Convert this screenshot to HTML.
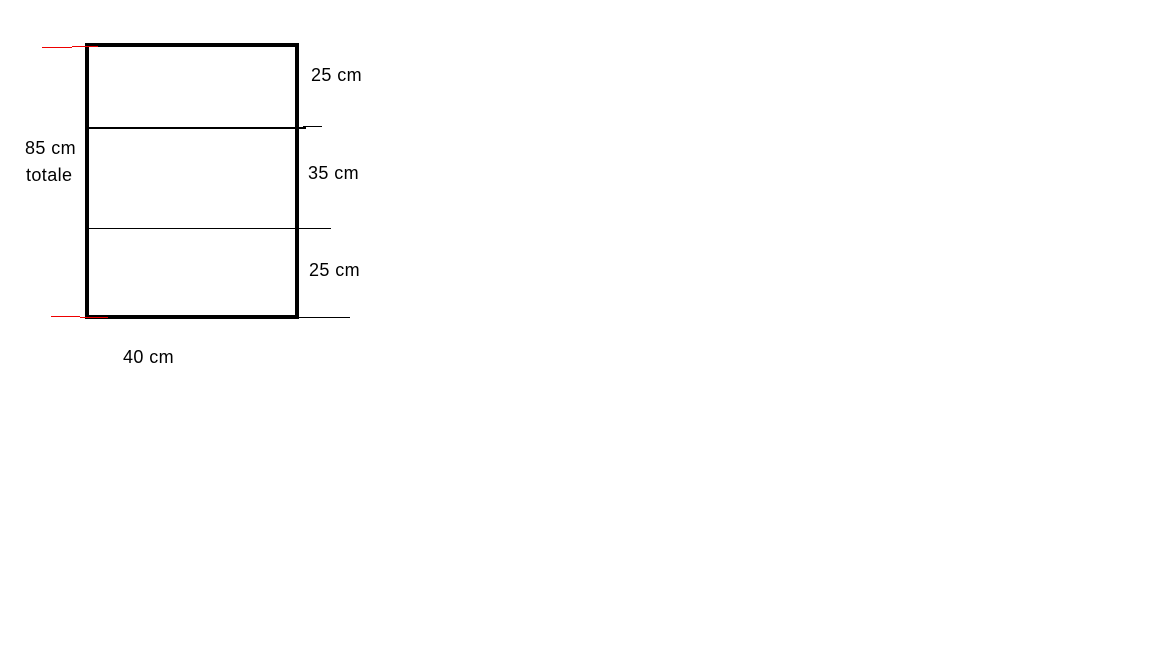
<!DOCTYPE html>
<html><head><style>
body{margin:0;width:1152px;height:648px;background:#fff;overflow:hidden;font-family:"Liberation Sans",sans-serif}
</style></head><body>
<svg width="1152" height="648" style="position:absolute;left:0;top:0" shape-rendering="crispEdges">
<rect x="87" y="45" width="210" height="272" fill="none" stroke="#000" stroke-width="4"/>
<line x1="89" y1="128" x2="306" y2="128" stroke="#000" stroke-width="2"/>
<line x1="303" y1="126.5" x2="322" y2="126.5" stroke="#000" stroke-width="1"/>
<line x1="89" y1="228.5" x2="331" y2="228.5" stroke="#000" stroke-width="1"/>
<line x1="299" y1="317.5" x2="350" y2="317.5" stroke="#000" stroke-width="1"/>
<line x1="42" y1="47.5" x2="72" y2="47.5" stroke="#e00" stroke-width="1"/>
<line x1="72" y1="46.5" x2="98" y2="46.5" stroke="#e00" stroke-width="1"/>
<line x1="51" y1="316.5" x2="80" y2="316.5" stroke="#e00" stroke-width="1"/>
<line x1="80" y1="317.5" x2="108" y2="317.5" stroke="#e00" stroke-width="1"/>
<g font-family="Liberation Sans, sans-serif" font-size="18" fill="#000" letter-spacing="0.4">
<text x="311" y="81">25 cm</text>
<text x="308" y="179">35 cm</text>
<text x="309" y="276">25 cm</text>
<text x="25" y="154">85 cm</text>
<text x="26" y="181">totale</text>
<text x="123" y="363">40 cm</text>
</g>
</svg>
</body></html>
